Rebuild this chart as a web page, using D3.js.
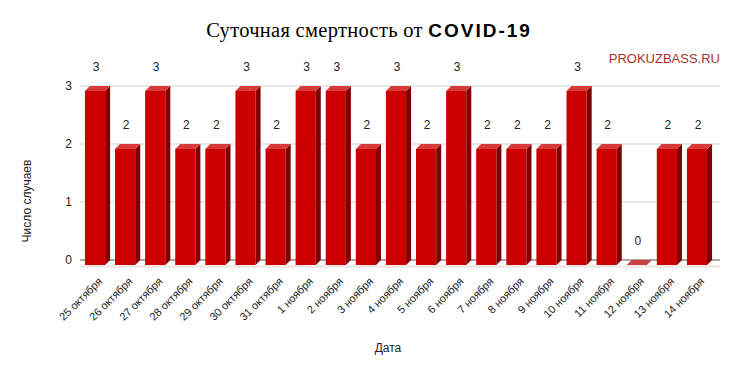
<!DOCTYPE html>
<html><head><meta charset="utf-8">
<script src="https://cdn.jsdelivr.net/npm/d3@7"></script>
<style>body{margin:0;background:#fff;} svg{display:block;font-family:"Liberation Sans",Arial,sans-serif;}</style>
</head><body>
<svg id="c" width="738" height="374"></svg>
<script>
const categories = ["25 октября","26 октября","27 октября","28 октября","29 октября","30 октября","31 октября","1 ноября","2 ноября","3 ноября","4 ноября","5 ноября","6 ноября","7 ноября","8 ноября","9 ноября","10 ноября","11 ноября","12 ноября","13 ноября","14 ноября"];
const deaths = [3,2,3,2,2,3,2,3,3,2,3,2,3,2,2,2,3,2,0,2,2];
const yTicks = [0,1,2,3];

const svg = d3.select("#c");
const depth = 5;
const x = d3.scaleBand().domain(categories).range([75, 717]).padding(0.33);
const y = d3.scaleLinear().domain([0,3]).range([260, 86]);

// title
const t = svg.append("text").attr("x", 369).attr("y", 37).attr("text-anchor","middle");
t.append("tspan").attr("font-family","'Liberation Serif','Times New Roman',serif").attr("font-size",20.5).attr("letter-spacing",0.3).text("Суточная смертность от ");
t.append("tspan").attr("font-family","'Liberation Sans',Arial,sans-serif").attr("font-weight","bold").attr("font-size",19).attr("letter-spacing",2).text("COVID-19");

svg.append("text").attr("x",720).attr("y",63).attr("text-anchor","end").attr("font-size",13).attr("fill","#a8322d").text("PROKUZBASS.RU");

// gridlines
svg.append("g").selectAll("line").data(yTicks.filter(d=>d>0)).join("line")
  .attr("x1",80).attr("x2",720).attr("y1",d=>y(d)).attr("y2",d=>y(d))
  .attr("stroke","#d0d0d0").attr("stroke-width",1);
svg.append("line").attr("x1",80).attr("x2",720).attr("y1",y(0)).attr("y2",y(0)).attr("stroke","#555").attr("stroke-width",1);

// y tick labels
svg.append("g").selectAll("text").data(yTicks).join("text")
  .attr("x",72).attr("y",d=>y(d)+4).attr("text-anchor","end").attr("font-size",12).attr("fill","#222").text(d=>d);

// floor shadow
svg.append("rect").attr("x",80).attr("y",y(0)+depth).attr("width",640).attr("height",3).attr("fill","#f3e9e9");

// bars
const bars = svg.append("g").selectAll("g").data(categories.map((c,i)=>({c,v:deaths[i]}))).join("g");
bars.each(function(d){
  const g = d3.select(this);
  const x0 = x(d.c), w = x.bandwidth(), x1 = x0 + w;
  const yt = y(d.v), yb = y(0);
  if (d.v > 0) {
    g.append("rect").attr("x",x0).attr("y",yt+depth).attr("width",w).attr("height",yb-yt).attr("fill","#cc0000");
    g.append("path").attr("d",`M${x1},${yt+depth}L${x1+depth},${yt}L${x1+depth},${yb}L${x1},${yb+depth}Z`).attr("fill","#7f0000");
  }
  g.append("path").attr("d",`M${x0},${yt+depth}L${x0+depth},${yt}L${x1+depth},${yt}L${x1},${yt+depth}Z`).attr("fill", d.v>0 ? "#d83a3a" : "#c84040");
});

// value labels
svg.append("g").selectAll("text").data(categories.map((c,i)=>({c,v:deaths[i]}))).join("text")
  .attr("x",d=>x(d.c)+x.bandwidth()/2+1).attr("y",d=>y(d.v)-15).attr("text-anchor","middle")
  .attr("font-size",12).attr("fill","#222").text(d=>d.v);

// x labels
svg.append("g").selectAll("text").data(categories).join("text")
  .attr("transform",d=>`translate(${x(d)+x.bandwidth()/2+8},${282}) rotate(-45)`)
  .attr("text-anchor","end").attr("font-size",11).attr("fill","#222").text(d=>d);

// axis titles
svg.append("text").attr("x",388).attr("y",352).attr("text-anchor","middle").attr("font-size",12).attr("fill","#222").text("Дата");
svg.append("text").attr("transform","translate(31,201) rotate(-90)").attr("text-anchor","middle").attr("font-size",12).attr("fill","#222").text("Число случаев");
</script>
</body></html>
